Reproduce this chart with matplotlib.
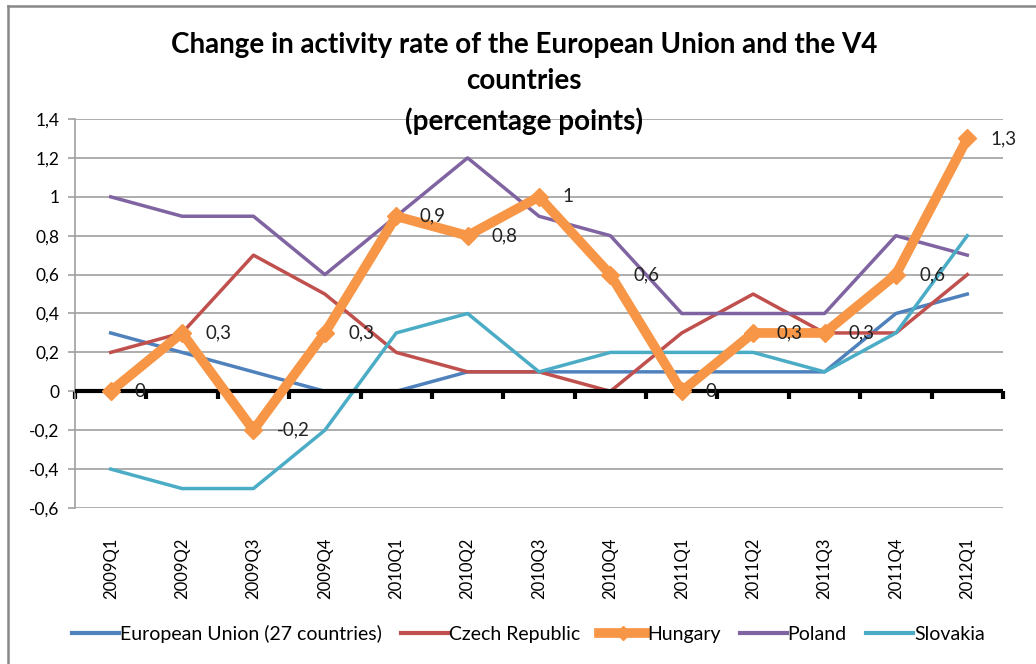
import matplotlib
matplotlib.use("Agg")
import matplotlib.pyplot as plt
from matplotlib.lines import Line2D

categories = ["2009Q1", "2009Q2", "2009Q3", "2009Q4", "2010Q1", "2010Q2", "2010Q3",
              "2010Q4", "2011Q1", "2011Q2", "2011Q3", "2011Q4", "2012Q1"]
eu = [0.3, 0.2, 0.1, 0.0, 0.0, 0.1, 0.1, 0.1, 0.1, 0.1, 0.1, 0.4, 0.5]
czech = [0.2, 0.3, 0.7, 0.5, 0.2, 0.1, 0.1, 0.0, 0.3, 0.5, 0.3, 0.3, 0.6]
hungary = [0.0, 0.3, -0.2, 0.3, 0.9, 0.8, 1.0, 0.6, 0.0, 0.3, 0.3, 0.6, 1.3]
poland = [1.0, 0.9, 0.9, 0.6, 0.9, 1.2, 0.9, 0.8, 0.4, 0.4, 0.4, 0.8, 0.7]
slovakia = [-0.4, -0.5, -0.5, -0.2, 0.3, 0.4, 0.1, 0.2, 0.2, 0.2, 0.1, 0.3, 0.8]
series_names = ["European Union (27 countries)", "Czech Republic", "Hungary", "Poland", "Slovakia"]
yticks = [-0.6, -0.4, -0.2, 0, 0.2, 0.4, 0.6, 0.8, 1, 1.2, 1.4]

colors = {"eu": "#4F81BD", "cz": "#C0504D", "hu": "#F79646", "pl": "#8064A2", "sk": "#4BACC6"}

plt.rcParams['font.family'] = ['Lato', 'DejaVu Sans']

def fmt(v):
    s = ("%.1f" % v)
    if s.endswith(".0"):
        s = s[:-2]
    if s == "-0":
        s = "0"
    return s.replace(".", ",")

fig = plt.figure(figsize=(10.36, 6.64), dpi=100)
ax = fig.add_axes([75 / 1036, 1 - 508 / 664, (1003 - 75) / 1036, (508 - 119) / 664])

x = list(range(len(categories)))
lw = 2.5
ax.plot(x, eu, color=colors["eu"], lw=lw, zorder=3)
ax.plot(x, czech, color=colors["cz"], lw=lw, zorder=3)
ax.plot(x, poland, color=colors["pl"], lw=lw, zorder=3)
ax.plot(x, slovakia, color=colors["sk"], lw=lw, zorder=3)
ax.axhline(0, color="black", lw=3, zorder=3.5)
ax.plot(x, hungary, color=colors["hu"], lw=7, marker="D", markersize=9,
        markeredgecolor=colors["hu"], zorder=4)

for xi, v in zip(x, hungary):
    ax.annotate(fmt(v), (xi, v), xytext=(17, 0), textcoords="offset points",
                ha="left", va="center", fontsize=13.5, color="#222222", zorder=5)

ax.set_xlim(-0.5, len(categories) - 0.5)
ax.set_ylim(-0.6, 1.4)
ax.set_yticks(yticks)
ax.set_yticklabels([fmt(v) for v in yticks], fontsize=12.5)
ax.yaxis.grid(True, color="#A0A0A0", lw=1.2, zorder=0)
ax.set_axisbelow(True)

ax.set_xticks(x)
ax.set_xticklabels(categories, rotation=90, fontsize=12)
ax.tick_params(axis="x", length=0, pad=21)
ax.tick_params(axis="y", length=5, color="#A0A0A0", width=1.2, pad=6)

for s in ["top", "right", "bottom"]:
    ax.spines[s].set_visible(False)
ax.spines["left"].set_color("#A0A0A0")
ax.spines["left"].set_linewidth(1.2)

# tick marks on zero line at category boundaries
sec = ax.secondary_xaxis(0.3)
sec.set_xticks([i - 0.5 for i in range(len(categories) + 1)])
sec.set_xticklabels([])
sec.tick_params(axis="x", direction="out", length=6, width=3, color="black")
for s in sec.spines.values():
    s.set_visible(False)

tfs = 20
fig.text(0.506, 1 - 45 / 664, "Change in activity rate of the European Union and the V4",
         ha="center", va="center", fontsize=tfs, fontweight="bold")
fig.text(0.506, 1 - 81 / 664, "countries", ha="center", va="center", fontsize=tfs, fontweight="bold")
fig.text(0.506, 1 - 121 / 664, "(percentage points)", ha="center", va="center",
         fontsize=tfs, fontweight="bold")

handles = [
    Line2D([], [], color=colors["eu"], lw=lw + 0.5),
    Line2D([], [], color=colors["cz"], lw=lw + 0.5),
    Line2D([], [], color=colors["hu"], lw=7, marker="D", markersize=7),
    Line2D([], [], color=colors["pl"], lw=lw + 0.5),
    Line2D([], [], color=colors["sk"], lw=lw + 0.5),
]
fig.legend(handles, series_names, loc="center", bbox_to_anchor=(0.51, 1 - 634 / 664),
           ncol=5, frameon=False, fontsize=14, handlelength=2.4, handletextpad=0.05,
           columnspacing=1.0)

# outer border (top and left)
fig.add_artist(Line2D([8 / 1036, 8 / 1036], [0, 1 - 6 / 664], transform=fig.transFigure,
                      color="#888888", lw=1.8))
fig.add_artist(Line2D([8 / 1036, 1], [1 - 6 / 664, 1 - 6 / 664], transform=fig.transFigure,
                      color="#888888", lw=1.8))

fig.savefig("out.png", dpi=100)
